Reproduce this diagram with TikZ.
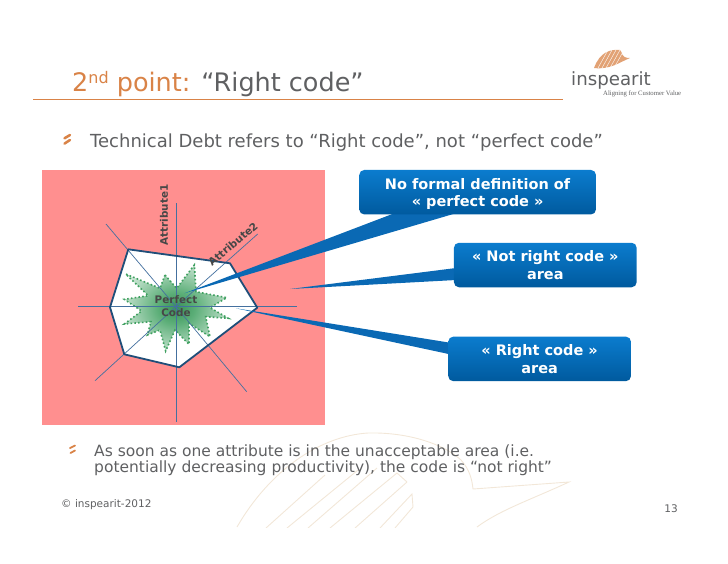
\documentclass[tikz,border=0pt]{standalone}
\usepackage{fontspec}
\setmainfont{DejaVu Sans}
\newfontfamily\serifthin{Liberation Serif}
\usetikzlibrary{shadings}
\definecolor{orangeT}{HTML}{D98347}
\definecolor{grayT}{HTML}{5F6062}
\definecolor{pinkA}{HTML}{FF8F8F}
\definecolor{spokeC}{HTML}{44709F}
\definecolor{polyC}{HTML}{1F4E79}
\definecolor{starC}{HTML}{3FA060}
\definecolor{wedgeC}{HTML}{0A69B4}
\definecolor{boxTop}{HTML}{0B7CCE}
\definecolor{boxBot}{HTML}{005A9E}
\definecolor{wmark}{HTML}{F2E7D8}
\tikzset{
  bodytxt/.style={anchor=base west,inner sep=0,text=grayT,font=\fontsize{18}{20}\selectfont},
  callout/.style={rounded corners=5pt,top color=boxTop,bottom color=boxBot,draw=none,text=white,font=\bfseries\fontsize{14.5}{17.5}\selectfont,align=center,inner sep=0},
  spoke/.style={draw=spokeC,line width=0.7pt},
  wedge/.style={fill=wedgeC,draw=none},
  bulletmark/.style={draw=orangeT,line width=2.5pt,line cap=round},
  difflabel/.style={inner sep=0,text=black!72,font=\bfseries\fontsize{10.4}{12}\selectfont},
  wm/.style={draw=wmark,line width=0.9pt}
}
\pgfdeclareradialshading{greenstar}{\pgfpoint{0pt}{0pt}}{color(0pt)=(starC!90!black);color(9pt)=(starC!85!white);color(20pt)=(starC!50!white);color(36pt)=(white)}
\begin{document}
\begin{tikzpicture}[x=1pt,y=-1pt]
\useasboundingbox (0,0) rectangle (728,563);
% watermark
\begin{scope}
\clip (0,0) rectangle (728,527);
\draw[wm] (237,527) .. controls (270,470) and (320,436) .. (368,433) .. controls (410,432) and (445,445) .. (461,460) .. controls (470,470) and (472,480) .. (473,489) -- (569,482) .. controls (530,500) and (500,510) .. (477,527);
\draw[wm] (266,528) -- (325,475);
\draw[wm] (287,528) -- (358,470);
\draw[wm] (308,528) -- (377,468);
\draw[wm] (330,528) -- (397,473) -- (407,482);
\draw[wm] (355,528) -- (407,482);
\draw[wm] (380,528) -- (412,494) -- (413,507) -- (395,528);
\end{scope}
% title
\node[anchor=base west,inner sep=0,text=orangeT,font=\fontsize{25.5}{28}\selectfont] (title) at (72,91) {2\raisebox{8pt}{\fontsize{16}{18}\selectfont nd} point: \textcolor{grayT}{“Right code”}};
\coordinate (ruleL) at (33,99.5);
\coordinate (ruleR) at (563,99.5);
\draw[orangeT,line width=1.5pt] (ruleL) -- (ruleR);
% logo
\fill[orangeT!75!white] (594,68) .. controls (600,52) and (610,49) .. (620,50) .. controls (623,52) and (620,58) .. (630,58) .. controls (620,62) and (610,70) .. (594,68) -- cycle;
\foreach \i in {0,...,4} \draw[white,line width=0.4pt] (598+4*\i,68) -- (608+4*\i,50);
\node[anchor=base west,inner sep=0,text=grayT,font=\fontsize{18.2}{20}\selectfont] (logo) at (571,85) {inspearit};
\node[anchor=base west,inner sep=0,text=grayT,font=\serifthin\fontsize{6.7}{8}\selectfont] (tag) at (603,95) {Aligning for Customer Value};
% bullet 1
\draw[bulletmark] (64.5,138.3) -- (70,135);
\draw[bulletmark] (64.5,143.6) -- (70,140);
\node[bodytxt] (t1) at (90,147) {Technical Debt refers to “Right code”, not “perfect code”};
% chart
\fill[pinkA] (41.7,170) rectangle (325,425);
\coordinate (c) at (176,306.7);
\fill[white] (128.3,249.3) -- (230,263.3) -- (257.3,307.7) -- (179.3,367.3) -- (124.3,354.3) -- (110,307.3) -- cycle;
% star
\begin{scope}[shift={(115,255)},scale=0.3333]
\path[shading=greenstar,draw=starC,dash pattern=on 1.6pt off 2.2pt,line width=1.6pt]
 (150,60) -- (185,100) -- (238,30) -- (243,110) -- (335,128) -- (285,158) -- (340,190) -- (272,185) -- (285,245) -- (222,205) -- (222,268) -- (180,225) -- (152,288) -- (135,225) -- (97,240) -- (108,200) -- (28,207) -- (80,168) -- (28,133) -- (100,122) -- (32,57) -- (135,100) -- cycle;
\end{scope}
\foreach \p in {(176,203),(176,422),(77.7,306.7),(296.7,306.7),(106,224),(257.7,234),(95,380.7),(246.7,391.7)}
  \draw[spoke] (c) -- \p;
\draw[polyC,line width=1.8pt,line join=round] (128.3,249.3) -- (230,263.3) -- (257.3,307.7) -- (179.3,367.3) -- (124.3,354.3) -- (110,307.3) -- cycle;
\node[difflabel,rotate=90] (a1) at (164,215) {Attribute1};
\node[difflabel,rotate=40] (a2) at (233,244) {Attribute2};
\node[difflabel] (p1) at (176,300) {Perfect};
\node[difflabel] (p2) at (176,313) {Code};
% callouts
\coordinate (tipA) at (184.3,293.3);
\coordinate (tipB) at (290,289);
\coordinate (tipC) at (236,308.3);
\fill[wedge] (tipA) -- (395,213) -- (456.7,213) -- cycle;
\fill[wedge] (tipB) -- (456,268) -- (456,280) -- cycle;
\fill[wedge] (tipC) -- (450,342.7) -- (450,354.3) -- cycle;
\node[callout,minimum width=236.7pt,minimum height=44.5pt] (b1) at (477.6,192.2) {\rule{0pt}{15pt}No formal definition of\\« perfect code »};
\node[callout,minimum width=182.7pt,minimum height=44.5pt] (b2) at (545.3,265) {« Not right code »\\area};
\node[callout,minimum width=182.7pt,minimum height=44.5pt] (b3) at (539.6,358.9) {« Right code »\\area};
% bullet 2
\draw[bulletmark,line width=1.8pt] (70,448) -- (75,445.5);
\draw[bulletmark,line width=1.8pt] (70.5,453) -- (75,450.5);
\node[bodytxt,align=left,anchor=north west,font=\fontsize{15.5}{16}\selectfont] (t2) at (94,445) {As soon as one attribute is in the unacceptable area (i.e.\\potentially decreasing productivity), the code is “not right”};
\node[anchor=base west,inner sep=0,text=grayT,font=\fontsize{10.5}{12}\selectfont] (copy) at (61,507) {© inspearit-2012};
\node[anchor=base east,inner sep=0,text=grayT,font=\fontsize{10.5}{12}\selectfont] (pg) at (678,512) {13};
\end{tikzpicture}
\end{document}
